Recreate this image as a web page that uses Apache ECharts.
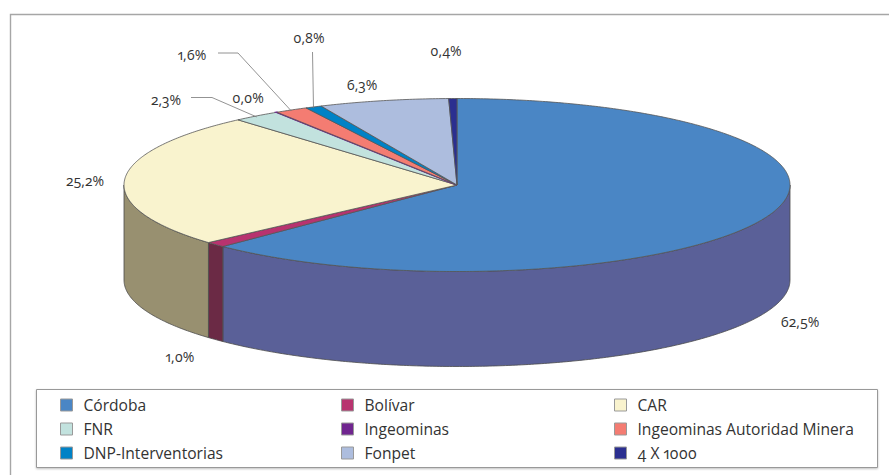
<!DOCTYPE html>
<html><head><meta charset="utf-8">
<style>html,body{margin:0;padding:0;background:#fff}
#chart{width:889px;height:475px}
#chart text{font-feature-settings:"onum" 1,"pnum" 1 !important;font-variant-numeric:oldstyle-nums proportional-nums !important}</style>
<script src="https://cdn.jsdelivr.net/npm/echarts@6/dist/echarts.min.js"></script>
</head><body><div id="chart"></div>
<script>
// ---- data ----
const categories = ['Córdoba','Bolívar','CAR','FNR','Ingeominas','Ingeominas Autoridad Minera','DNP-Interventorias','Fonpet','4 X 1000'];
const shares = [62.5,1.0,25.2,2.3,0.04,1.6,0.8,6.3,0.4];
// ---- styles ----
const topColors = ['#4A86C5','#B8336F','#F9F3CE','#C2E2DE','#70258F','#F47C72','#0082C6','#ADBDDE','#2B2F90'];
const wallColors = ['#5A6098','#6B2A45','#989070','#7F9592','#4A1860','#A05048','#005580','#727D92','#1C1F60'];
const legendColumns = [[0,3,6],[1,4,7],[2,5,8]];
const legendLeft = [60,341,614];
// ---- layout ----
const FONT = '"Open Sans",Lato,sans-serif';
const cx=457, cy=185, rx=333, ry=86.5, depth=95;
const labelPos = [[800,321],[180,356],[85,180],[166,99],[248,97],[192,54],[309,37],[362,84],[446,50]];
const leaders = {3:[[191,97.5],[212,97.5]],5:[[218,53],[238,53]],6:[[312.5,52]]};

const total = shares.reduce((a,b)=>a+b,0);
const starts = []; let acc=0;
shares.forEach(v=>{starts.push(acc); acc+=v;});
const ang = s => (-90 + s/total*360)*Math.PI/180;
const pt = (a,dy=0)=>[cx+rx*Math.cos(a), cy+ry*Math.sin(a)+dy];
function arc(a0,a1,dy=0){const n=Math.max(2,Math.ceil(Math.abs(a1-a0)/0.01));const p=[];
  for(let i=0;i<=n;i++)p.push(pt(a0+(a1-a0)*i/n,dy));return p;}

function render(i){return function(params,api){
  const v=api.value(0), a0=ang(starts[i]), a1=a0+v/total*2*Math.PI;
  const children=[];
  // walls: only the part of the rim facing the viewer (sin>0)
  [[0,Math.PI],[2*Math.PI,3*Math.PI],[-2*Math.PI,-Math.PI]].forEach(r=>{
    const w0=Math.max(a0,r[0]), w1=Math.min(a1,r[1]);
    if(w1>w0){
      children.push({type:'polygon',shape:{points:arc(w0,w1).concat(arc(w1,w0,depth))},
        style:{fill:wallColors[i],stroke:'#4a4a4a',lineWidth:0.8}});
    }
  });
  children.push({type:'polygon',z2:5,shape:{points:[[cx,cy]].concat(arc(a0,a1))},
    style:{fill:topColors[i],stroke:v<0.1?topColors[i]:'#555',lineWidth:v<0.1?1.4:0.8}});
  if(leaders[i]){
    const m=pt((a0+a1)/2);
    children.push({type:'polyline',z2:6,shape:{points:leaders[i].concat([[m[0],m[1]+1]])},
      style:{fill:'none',stroke:'#777',lineWidth:0.8}});
  }
  children.push({type:'text',z2:7,x:labelPos[i][0],y:labelPos[i][1],
    style:{text:shares[i].toFixed(1).replace('.',',')+'%',font:'14px '+FONT,fill:'#333',align:'center',verticalAlign:'middle'}});
  return {type:'group',children};
};}

const chart=echarts.init(document.getElementById('chart'),null,{renderer:'svg',width:889,height:475});
chart.setOption({
  animation:false,
  backgroundColor:'#fff',
  graphic:[
    {type:'polyline',silent:true,shape:{points:[[10.5,475],[10.5,14.5],[889,14.5]]},style:{fill:'none',stroke:'#a6a6a6',lineWidth:1.4}},
    {type:'rect',silent:true,shape:{x:36.5,y:389.5,width:841,height:78},style:{fill:'#fff',stroke:'#999',lineWidth:1,shadowColor:'rgba(0,0,0,0.25)',shadowBlur:2,shadowOffsetY:1}}
  ],
  legend:legendColumns.map((col,k)=>({
    orient:'vertical',left:legendLeft[k],top:397,padding:0,
    itemWidth:12,itemHeight:12,itemGap:8,selectedMode:false,icon:'rect',z:10,
    itemStyle:{borderColor:'#999',borderWidth:1},
    textStyle:{fontFamily:FONT,fontSize:15.6,color:'#333',lineHeight:16,padding:[0,0,0,6]},
    data:col.map(i=>categories[i])
  })),
  series:categories.map((name,i)=>({
    type:'custom',name,coordinateSystem:'none',silent:true,z:3,
    itemStyle:{color:topColors[i]},
    renderItem:render(i),
    data:[[shares[i]]]
  }))
});
</script></body></html>
